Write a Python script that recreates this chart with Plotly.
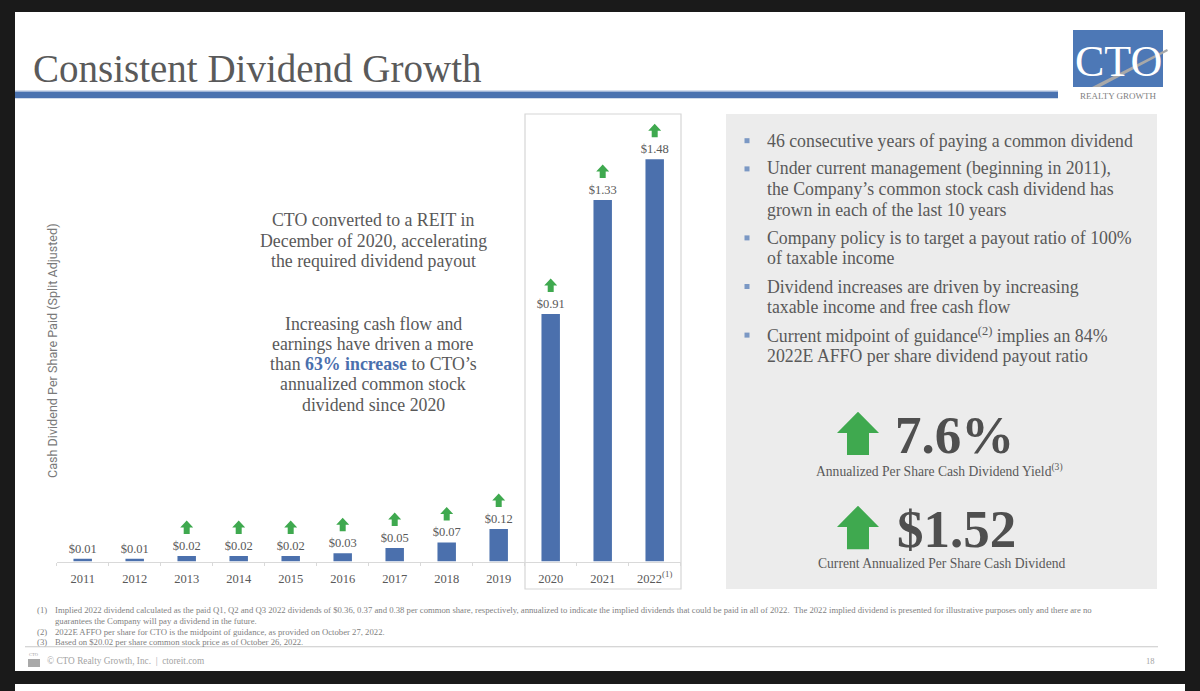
import plotly.graph_objects as go

W, H = 1200, 691

# ---------------- data ----------------
years = [2011, 2012, 2013, 2014, 2015, 2016, 2017, 2018, 2019, 2020, 2021, 2022]
dividends = [0.01, 0.01, 0.02, 0.02, 0.02, 0.03, 0.05, 0.07, 0.12, 0.91, 1.33, 1.48]
value_labels = ["$0.01", "$0.01", "$0.02", "$0.02", "$0.02", "$0.03", "$0.05",
                "$0.07", "$0.12", "$0.91", "$1.33", "$1.48"]
tick_labels = ["2011", "2012", "2013", "2014", "2015", "2016", "2017", "2018",
               "2019", "2020", "2021", "2022<sup>(1)</sup>"]
growth_arrow = [False, False, True, True, True, True, True, True, True, True, True, True]

title_text = "Consistent Dividend Growth"
y_title = "Cash Dividend Per Share Paid (Split Adjusted)"

reit_lines = ["CTO converted to a REIT in",
              "December of 2020, accelerating",
              "the required dividend payout"]
growth_lines = ["Increasing cash flow and",
                "earnings have driven a more",
                "than <b><span style='color:#4a6fad'>63% increase</span></b> to CTO’s",
                "annualized common stock",
                "dividend since 2020"]

bullets = [
    ["46 consecutive years of paying a common dividend"],
    ["Under current management (beginning in 2011),",
     "the Company’s common stock cash dividend has",
     "grown in each of the last 10 years"],
    ["Company policy is to target a payout ratio of 100%",
     "of taxable income"],
    ["Dividend increases are driven by increasing",
     "taxable income and free cash flow"],
    ["Current midpoint of guidance<sup>(2)</sup> implies an 84%",
     "2022E AFFO per share dividend payout ratio"],
]

kpi_values = ["7.6%", "$1.52"]
kpi_captions = ["Annualized Per Share Cash Dividend Yield<sup>(3)</sup>",
                "Current Annualized Per Share Cash Dividend"]

footnotes = [
    ("(1)", "Implied 2022 dividend calculated as the paid Q1, Q2 and Q3 2022 dividends of $0.36, 0.37 and 0.38 per common share, respectively, annualized to indicate the implied dividends that could be paid in all of 2022.  The 2022 implied dividend is presented for illustrative purposes only and there are no"),
    ("", "guarantees the Company will pay a dividend in the future."),
    ("(2)", "2022E AFFO per share for CTO is the midpoint of guidance, as provided on October 27, 2022."),
    ("(3)", "Based on $20.02 per share common stock price as of October 26, 2022."),
]
footer_text = "© CTO Realty Growth, Inc.  |  ctoreit.com"
page_number = "18"

# ---------------- style ----------------
BLUE = "#4b70ad"
GREEN = "#3fa94f"
GRAY_TXT = "#595959"
SERIF = "Liberation Serif"
SANS = "Roboto"


def px(x):
    return x / W


def py(y):
    return 1 - y / H


fig = go.Figure()

fig.add_trace(go.Bar(
    x=years, y=dividends,
    text=value_labels, textposition="outside",
    textfont=dict(family=SERIF, size=12.5, color=GRAY_TXT),
    constraintext="none", cliponaxis=False,
    marker=dict(color=BLUE, line=dict(width=0)),
    hoverinfo="skip",
))

shapes = []
annotations = []


def rect(x0, y0, x1, y1, fill, line=None, lw=0, layer="below"):
    shapes.append(dict(type="rect", xref="paper", yref="paper",
                       x0=px(x0), x1=px(x1), y0=py(y1), y1=py(y0),
                       fillcolor=fill, line=dict(color=line or fill, width=lw),
                       layer=layer))


def text(x, y, s, size, color=GRAY_TXT, family=SERIF, xanchor="left", angle=0):
    annotations.append(dict(x=px(x), y=py(y), xref="paper", yref="paper",
                            text=s, showarrow=False, xanchor=xanchor,
                            yanchor="middle", textangle=angle,
                            font=dict(family=family, size=size, color=color)))


def paper_path(points):
    d = "M " + " L ".join(f"{px(a):.5f},{py(b):.5f}" for a, b in points) + " Z"
    return d


# slide backgrounds
rect(15, 12, 1185, 671, "#ffffff")
rect(15, 684, 1185, 691, "#ffffff")

# title & rule
text(31, 68.5, title_text, 39, color="#5a5a5a")
rect(15, 90.5, 1058, 91.8, "#a9bcdc")
rect(15, 91.8, 1058, 98.3, "#4a72b0")

# logo
rect(1073, 30, 1163, 87, "#4d78b6")
shapes.append(dict(type="path", xref="paper", yref="paper",
                   path=paper_path([(1092, 87), (1167, 49), (1168, 51), (1100, 87)]),
                   fillcolor="#a8a8a8", line=dict(width=0), layer="below"))
text(1118, 61, "CTO", 44, color="#ffffff", xanchor="center")
text(1118, 95.5, "REALTY GROWTH", 9, color="#7f7f7f", xanchor="center")

# box round 2020-2022 and right grey panel
rect(525, 114, 681, 589, "rgba(0,0,0,0)", line="#d6d6d6", lw=1.2)
rect(726, 114, 1157, 589, "#ececec")

# y axis title
text(52, 351, y_title, 12.6, color="#7a7a7a", family=SANS, xanchor="center", angle=-90)

# growth arrows over bars (pixel-sized, anchored to each bar top)
arrow_small = "M -6.5,28.5 L 0,35.5 L 6.5,28.5 L 3,28.5 L 3,22 L -3,22 L -3,28.5 Z"
for yr, val, show in zip(years, dividends, growth_arrow):
    if show:
        shapes.append(dict(type="path", xref="x", yref="y",
                           xsizemode="pixel", ysizemode="pixel",
                           xanchor=yr, yanchor=val, path=arrow_small,
                           fillcolor=GREEN, line=dict(width=0), layer="above"))

# middle text
for i, s in enumerate(reit_lines):
    text(373, 220 + i * 20.5, s, 17.8, xanchor="center")
for i, s in enumerate(growth_lines):
    text(373, 323.5 + i * 20.3, s, 17.8, xanchor="center")

# bullets
yb = 140.7
for para in bullets:
    rect(744.5, yb - 2.5, 749.5, yb + 2.5, "#7b98c4", layer="above")
    for j, s in enumerate(para):
        text(765, yb + j * 20.4, s, 17.8)
    yb += (len(para) - 1) * 20.4 + 28.2

# KPI arrows and values
def big_arrow(top, bottom):
    head = top + (bottom - top) * 0.49
    return paper_path([(837, head), (858, top), (879, head), (869, head),
                       (869, bottom), (847, bottom), (847, head)])

for (top, bottom) in [(411.7, 455), (505.7, 549.3)]:
    shapes.append(dict(type="path", xref="paper", yref="paper",
                       path=big_arrow(top, bottom), fillcolor=GREEN,
                       line=dict(width=0), layer="above"))

annotations.append(dict(x=px(954), y=py(435), xref="paper", yref="paper",
                        text="<b>" + kpi_values[0] + "</b>", showarrow=False,
                        xanchor="center", yanchor="middle",
                        font=dict(family=SERIF, size=53, color="#4f4f4f")))
annotations.append(dict(x=px(956), y=py(529), xref="paper", yref="paper",
                        text="<b>" + kpi_values[1] + "</b>", showarrow=False,
                        xanchor="center", yanchor="middle",
                        font=dict(family=SERIF, size=53, color="#4f4f4f")))
text(939, 470, kpi_captions[0], 13.6, xanchor="center")
text(941, 563.5, kpi_captions[1], 13.6, xanchor="center")

# footnotes
for i, (num, s) in enumerate(footnotes):
    yy = [610, 621, 631.5, 642][i]
    if num:
        text(35, yy, num, 8.7, color="#7f7f7f")
    text(53, yy, s, 8.7, color="#7f7f7f")

rect(25, 646.3, 1158, 647.3, "#c8c8c8")
rect(28, 659, 40, 667, "#a9a9a9")
text(34, 654, "CTO", 4.5, color="#9a9a9a", xanchor="center")
text(45, 660.5, footer_text, 9.3, color="#a3a3a3")
text(1150, 661, page_number, 8.5, color="#a3a3a3", xanchor="center")

fig.update_layout(
    width=W, height=H,
    margin=dict(l=0, r=0, t=0, b=0),
    paper_bgcolor="#1a1a1a",
    plot_bgcolor="rgba(0,0,0,0)",
    showlegend=False,
    bargap=0.645,
    xaxis=dict(
        domain=[56.7 / W, 680.7 / W],
        range=[years[0] - 0.5, years[-1] + 0.5],
        tickmode="array", tickvals=years, ticktext=tick_labels,
        ticks="", showline=True, linecolor="#d9d9d9", linewidth=1,
        showgrid=False, zeroline=False, fixedrange=True,
        ticklabelstandoff=5,
        tickfont=dict(family=SERIF, size=12.5, color=GRAY_TXT),
        minor=dict(tickmode="array", tickvals=[y - 0.5 for y in years] + [years[-1] + 0.5],
                   ticks="outside", ticklen=3, tickcolor="#d9d9d9", showgrid=False),
    ),
    yaxis=dict(domain=[1 - 561.5 / H, 1 - 114 / H], range=[0, 1.646],
               visible=False, fixedrange=True),
    shapes=shapes,
    annotations=annotations,
)

fig.write_html("out.html",
               config={"displayModeBar": False},
               post_script="document.body.style.margin='0';document.body.style.overflow='hidden';")
